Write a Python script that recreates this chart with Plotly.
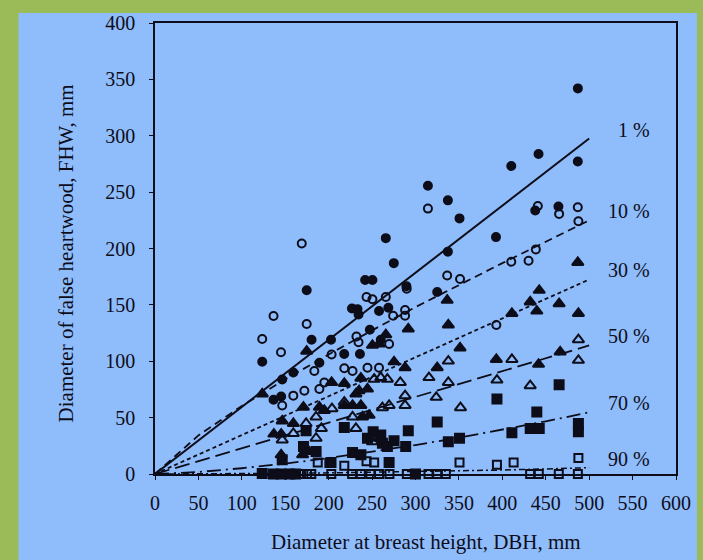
import plotly.graph_objects as go

# ---------------- data ----------------
fc_x = [123.5,136.5,145.3,146.5,159.3,174.7,180.3,189.3,202.7,217.9,226.8,233.2,234.4,236,242,250.4,247.4,258,260,268.7,265.8,275,289.5,314.3,325,337.3,337.3,350.7,392.7,410.3,441.7,437.9,464.6,486.9,487]
fc_y = [99.6,65.8,68.7,83.8,90,162.9,119.1,98.7,119.1,106.5,146.8,146.2,141.5,106.5,172.1,172.1,127.9,144.5,119,147.4,209.2,187,166.6,255.6,161.4,242.7,197.2,226.7,210.1,273.1,283.8,233.7,237.2,277.1,342]

oc_x = [123.5,136.5,145.1,146.5,159.3,169,172,174.7,183.5,189.3,195,203.4,218,227.5,232,234.4,243.6,250.4,244.7,258,265.8,269.6,274.2,288,288,289.9,314.3,336.5,351.3,393.1,410.3,430.2,438.6,440.9,465.4,486.9,487.6]
oc_y = [119.7,140.1,108,60.8,69.5,204.5,73.9,133.1,91.4,75.4,81.2,106,93.8,91.4,122,116.8,157,155,94.3,94.3,157,115.3,140.4,140.4,145.4,164.3,235.4,176,173,132.2,188.2,189.1,199.2,237.7,230.7,236.6,224.1]

ft_x = [123.5,136.9,145.3,145.3,146.5,159.3,170,170.9,174.7,177,189.3,195,203.4,218,218,227.5,231.4,235,237.1,237.1,239,244.7,246.6,250.4,258,265.8,275.3,288,291.7,325,336.5,337.8,351.3,393.1,411,432.1,439.7,442.5,441.7,465.4,466.6,486.9,487.6]
ft_y = [71,35.4,35.4,17,47.1,44.8,17,59.3,108.9,20,59.3,56.4,81.2,80.3,60.8,60.8,71,73.9,85,60.8,50.6,75.4,52,114.1,115.3,123.5,99.5,94.3,128.7,94.3,154.1,132.2,111.8,101.6,142.4,152.6,144.5,162.9,97.3,151.1,108.3,187.6,142.4]

ot_x = [146.5,159.3,174,185.5,185.5,191.6,203.8,218,227.5,231.4,250.4,252.4,258,260,261.9,267.6,269.6,282.5,288,288,315.5,323.9,337.8,337.8,351.8,393.8,411,432.1,487.6,487.6]
ot_y = [30.2,36,44.8,50.6,31.7,40.4,57.9,63.7,50.6,40.4,28.7,84.1,31.7,85.5,58.8,84.1,60.8,81.2,69.5,60.8,85.5,68,100.2,81.2,58.8,83.3,101.6,78.3,119.1,100.8]

fs_x = [123.5,136.5,145.3,146.5,155,162,171,174,185.5,202.7,218,227.5,237.1,244.7,251.2,260,261.9,267.6,269.6,275.3,288.7,291.7,300,325,337.8,350.7,393.8,411,432.1,439.7,442.5,465.4,487.6,487.6]
fs_y = [0.4,0,0,12.7,0,0,24.3,38.3,20,10.3,41.3,19.1,17.1,31.7,37.4,34.5,27.3,24.3,10.3,29.6,24.3,38.3,0,46.2,28.7,31.7,66.6,36.6,40.4,55,40.4,79.2,44.8,37.4]

os_x = [150,168,175,180,187.4,200.8,203,218,227,237,243.6,248,252.4,258,270,290,315,325,335,350.7,393.8,413,432,442,465,487,487.6]
os_y = [0,0,0,0,10.3,9.8,0,7.4,0,0,11.2,0,10.3,0,0,0,0,0,0,10.3,8.3,10.3,0,0,0,0,14.2]

# fitted curves
curve_x = [0, 50, 100, 150, 200, 250, 300, 350, 400, 450, 500]
c1_y  = [0, 29.8, 59.5, 89, 119, 149, 178.5, 208, 238, 268, 297.5]
c10_y = [0, 34.2, 60.4, 84, 106, 127.4, 148, 167.7, 187, 206, 225]
c30_y = [0, 17.3, 34.5, 51.8, 69, 86, 103.5, 121, 138, 155, 172.5]
c50_y = [0, 11.4, 22.8, 34.2, 45.6, 57, 68.4, 79.8, 91.2, 102.6, 114]
c70_y = [0, 1.8, 5.1, 9.2, 14.1, 19.6, 25.7, 32.2, 39.3, 46.7, 54.7]
c90_y = [0, 0, 0.3, 0.6, 1, 1.5, 2, 2.7, 3.5, 4.5, 5.6]
curve_labels = ["1 %", "10 %", "30 %", "50 %", "70 %", "90 %"]

x_ticks = list(range(0, 601, 50))
y_ticks = list(range(0, 401, 50))

# ---------------- figure ----------------
INK = "#0d0d1a"
FONT = "Liberation Serif"
fig = go.Figure()

curves = [c1_y, c10_y, c30_y, c50_y, c70_y, c90_y]
dashes = ["solid", "8px,5px", "4px,3px", "15px,6px", "14px,5px,2px,5px", "6px,3px,2px,3px"]
widths = [2, 1.8, 1.8, 1.8, 1.8, 1.5]
for cy, d, w in zip(curves, dashes, widths):
    fig.add_trace(go.Scatter(x=curve_x, y=cy, mode="lines",
                             line=dict(color=INK, width=w, dash=d),
                             hoverinfo="skip", showlegend=False))

series = [
    (fc_x, fc_y, "circle", 8),
    (oc_x, oc_y, "circle-open", 8),
    (ft_x, ft_y, "triangle-up", 10),
    (ot_x, ot_y, "triangle-up-open", 10),
    (fs_x, fs_y, "square", 9),
    (os_x, os_y, "square-open", 8),
]
for sx, sy, sym, sz in series:
    fig.add_trace(go.Scatter(x=sx, y=sy, mode="markers",
                             marker=dict(symbol=sym, size=sz, color=INK,
                                         line=dict(color=INK, width=2)),
                             showlegend=False, cliponaxis=False))

annotations = []
for lab, cy in zip(curve_labels, curves):
    annotations.append(dict(x=572, y=cy[-1] + 8, xref="x", yref="y", text=lab,
                            showarrow=False, xanchor="right", yanchor="middle",
                            font=dict(family=FONT, size=20, color=INK)))
annotations.append(dict(x=0.52, y=-0.15, xref="paper", yref="paper",
                        text="Diameter at breast height, DBH, mm", showarrow=False,
                        xanchor="center", yanchor="middle",
                        font=dict(family=FONT, size=21, color=INK)))
annotations.append(dict(x=-0.17, y=0.49, xref="paper", yref="paper",
                        text="Diameter of false heartwood, FHW, mm", showarrow=False,
                        textangle=-90, xanchor="center", yanchor="middle",
                        font=dict(family=FONT, size=21, color=INK)))

fig.update_layout(
    width=703, height=560,
    margin=dict(l=155, r=25, t=17, b=86),
    paper_bgcolor="#9BBB59",
    plot_bgcolor="rgba(0,0,0,0)",
    shapes=[dict(type="rect", xref="paper", yref="paper",
                 x0=-0.262, x1=1.0402, y0=-0.3, y1=1.0219,
                 fillcolor="#8FBCFA", line=dict(width=0), layer="below")],
    annotations=annotations,
    showlegend=False,
)
fig.update_xaxes(range=[0, 600], tickvals=x_ticks, showgrid=False, zeroline=False,
                 showline=True, linecolor=INK, linewidth=1.5, mirror=True,
                 ticks="outside", ticklen=4, tickcolor=INK, ticklabelstandoff=6,
                 tickfont=dict(family=FONT, size=20, color=INK))
fig.update_yaxes(range=[0, 400], tickvals=y_ticks, showgrid=False, zeroline=False,
                 showline=True, linecolor=INK, linewidth=1.5, mirror=True,
                 ticks="outside", ticklen=4, tickcolor=INK, ticklabelstandoff=10,
                 tickfont=dict(family=FONT, size=20, color=INK))

fig.write_html("out.html", config={"displayModeBar": False},
               post_script="document.body.style.margin='0';")
